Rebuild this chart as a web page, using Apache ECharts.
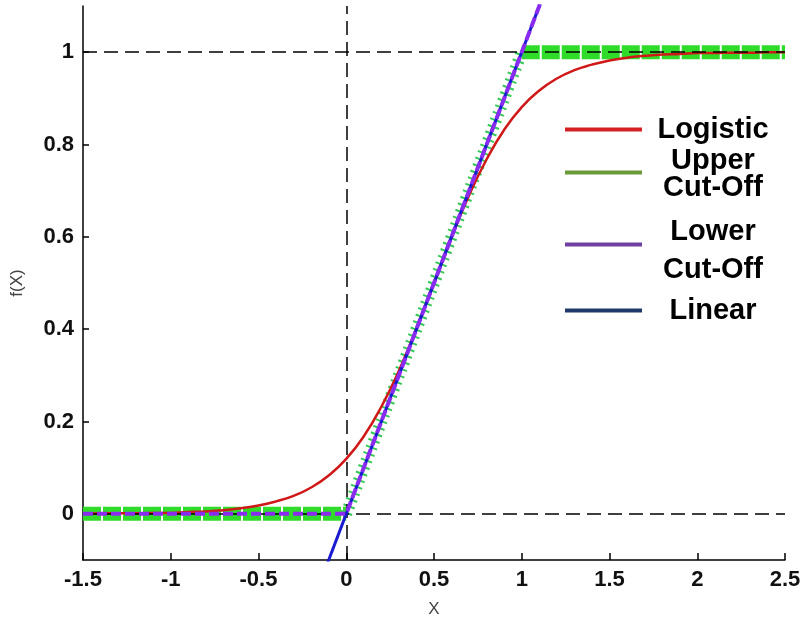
<!DOCTYPE html>
<html>
<head>
<meta charset="utf-8">
<script src="https://cdn.jsdelivr.net/npm/echarts@6/dist/echarts.min.js"></script>
<style>html,body{margin:0;padding:0;background:#fff}#c{width:801px;height:617px}</style>
</head>
<body>
<div id="c"></div>
<script>
// ---- data ----
const logisticX = [-1.5,-1.4,-1.3,-1.2,-1.1,-1.0,-0.9,-0.8,-0.7,-0.6,-0.5,-0.4,-0.3,-0.2,-0.1,0,0.1,0.2,0.3,0.4,0.5,0.6,0.7,0.8,0.9,1.0,1.1,1.2,1.3,1.4,1.5,1.6,1.7,1.8,1.9,2.0,2.1,2.2,2.3,2.4,2.5];
const logisticY = [0.000,0.001,0.001,0.001,0.002,0.002,0.004,0.005,0.008,0.012,0.018,0.027,0.039,0.057,0.083,0.119,0.168,0.232,0.310,0.401,0.500,0.599,0.690,0.768,0.832,0.881,0.917,0.943,0.961,0.973,0.982,0.988,0.992,0.995,0.996,0.998,0.998,0.999,0.999,1.000,1.000];
const upperX = [-1.5, 0, 1, 2.5];
const upperY = [0, 0, 1, 1];
const lowerX = [-1.5, 0, 1.2];
const lowerY = [0, 0, 1.2];
const linearX = [-0.2, 1.2];
const linearY = [-0.2, 1.2];
const xTicks = [-1.5, -1, -0.5, 0, 0.5, 1, 1.5, 2, 2.5];
const yTicks = [0, 0.2, 0.4, 0.6, 0.8, 1];
const refY = [0, 1];
const refX = [0];

const zip = (xs, ys) => xs.map((x, i) => [x, ys[i]]);
// upper cut-off: flat parts drawn as thick band, sloped part as hatched line
const upperPts = zip(upperX, upperY);
const upperFlat = [];
const upperSlope = [];
for (let i = 0; i < upperPts.length - 1; i++) {
  const a = upperPts[i], b = upperPts[i + 1];
  if (a[1] === b[1]) { upperFlat.push(a, b); }
  else { upperFlat.push([(a[0] + b[0]) / 2, '-']); upperSlope.push(a, b); }
}

const FONT = '"Liberation Sans", Arial, sans-serif';
const chart = echarts.init(document.getElementById('c'), null, {renderer: 'canvas'});

// lines: [[text, lineHeight], ...]
function legendFor(name, color, top, lines) {
  const rich = {};
  lines.forEach((l, i) => {
    rich['t' + i] = {width: 132, align: 'center', fontSize: 29, fontWeight: 'bold', fontFamily: FONT, color: '#000', lineHeight: l[1]};
  });
  return {
    data: [{name: name, itemStyle: {color: color, borderWidth: 0}}],
    left: 565, top: top, orient: 'vertical', padding: 0,
    icon: 'rect', itemWidth: 77, itemHeight: 4,
    selectedMode: false,
    formatter: () => lines.map((l, i) => '{t' + i + '|' + l[0] + '}').join('\n'),
    textStyle: {rich: rich}
  };
}

const option = {
  animation: false,
  backgroundColor: '#fff',
  grid: {left: 83, right: 16, top: 6, bottom: 57, containLabel: false, outerBoundsMode: 'none'},
  legend: [
    legendFor('Logistic', '#d42020', 115, [['Logistic', 30]]),
    legendFor('Upper Cut-Off', '#6b9a3b', 146, [['Upper', 30], ['Cut-Off', 24]]),
    legendFor('Lower Cut-Off', '#7040a0', 217, [['Lower', 50], ['Cut-Off', 26]]),
    legendFor('Linear', '#1f3a6a', 296, [['Linear', 30]])
  ],
  xAxis: {
    type: 'value', min: -1.5, max: 2.5, interval: 0.5,
    name: 'X', nameLocation: 'middle', nameGap: 41,
    nameTextStyle: {fontSize: 17, color: '#444', fontFamily: FONT},
    axisLine: {onZero: false, lineStyle: {color: '#000', width: 1.5}},
    axisTick: {inside: true, length: 7, lineStyle: {color: '#000', width: 1.5}, customValues: xTicks},
    axisLabel: {customValues: xTicks, fontSize: 22, fontWeight: 'bold', color: '#111', fontFamily: FONT, margin: 9},
    splitLine: {show: false}
  },
  yAxis: {
    type: 'value', min: -0.1, max: 1.1,
    name: 'f(X)', nameLocation: 'middle', nameGap: 57,
    nameTextStyle: {fontSize: 17, color: '#444', fontFamily: FONT},
    axisLine: {show: true, onZero: false, lineStyle: {color: '#000', width: 1.5}},
    axisTick: {show: true, inside: true, length: 6, lineStyle: {color: '#000', width: 1.5}, customValues: yTicks},
    axisLabel: {customValues: yTicks, fontSize: 22, fontWeight: 'bold', color: '#111', fontFamily: FONT, margin: 9},
    splitLine: {show: false}
  },
  series: [
    {
      name: 'Upper Cut-Off', type: 'line', data: upperFlat, showSymbol: false, connectNulls: false,
      lineStyle: {color: '#2fdc2a', width: 14, type: [18, 2], cap: 'butt'}, z: 1
    },
    {
      name: 'Upper Cut-Off', type: 'line', data: upperSlope, showSymbol: false,
      lineStyle: {color: '#38c858', width: 12, type: [2, 5], cap: 'butt'}, z: 2
    },
    {
      name: 'ref', type: 'line', data: [], z: 3,
      markLine: {
        silent: true, symbol: ['none', 'none'], label: {show: false},
        lineStyle: {color: '#000', width: 1.5, type: [14, 7]},
        data: refY.map(v => ({yAxis: v})).concat(refX.map(v => ({xAxis: v})))
      }
    },
    {
      name: 'Logistic', type: 'line', data: zip(logisticX, logisticY), showSymbol: false, smooth: true,
      lineStyle: {color: '#d01818', width: 2.5}, z: 4
    },
    {
      name: 'Linear', type: 'line', data: zip(linearX, linearY), showSymbol: false,
      lineStyle: {color: '#1a1ad0', width: 3}, z: 5
    },
    {
      name: 'Lower Cut-Off', type: 'line', data: zip(lowerX, lowerY), showSymbol: false,
      lineStyle: {color: '#8a2cf0', width: 4, type: [10, 4]}, z: 6
    }
  ]
};
chart.setOption(option);
</script>
</body>
</html>
